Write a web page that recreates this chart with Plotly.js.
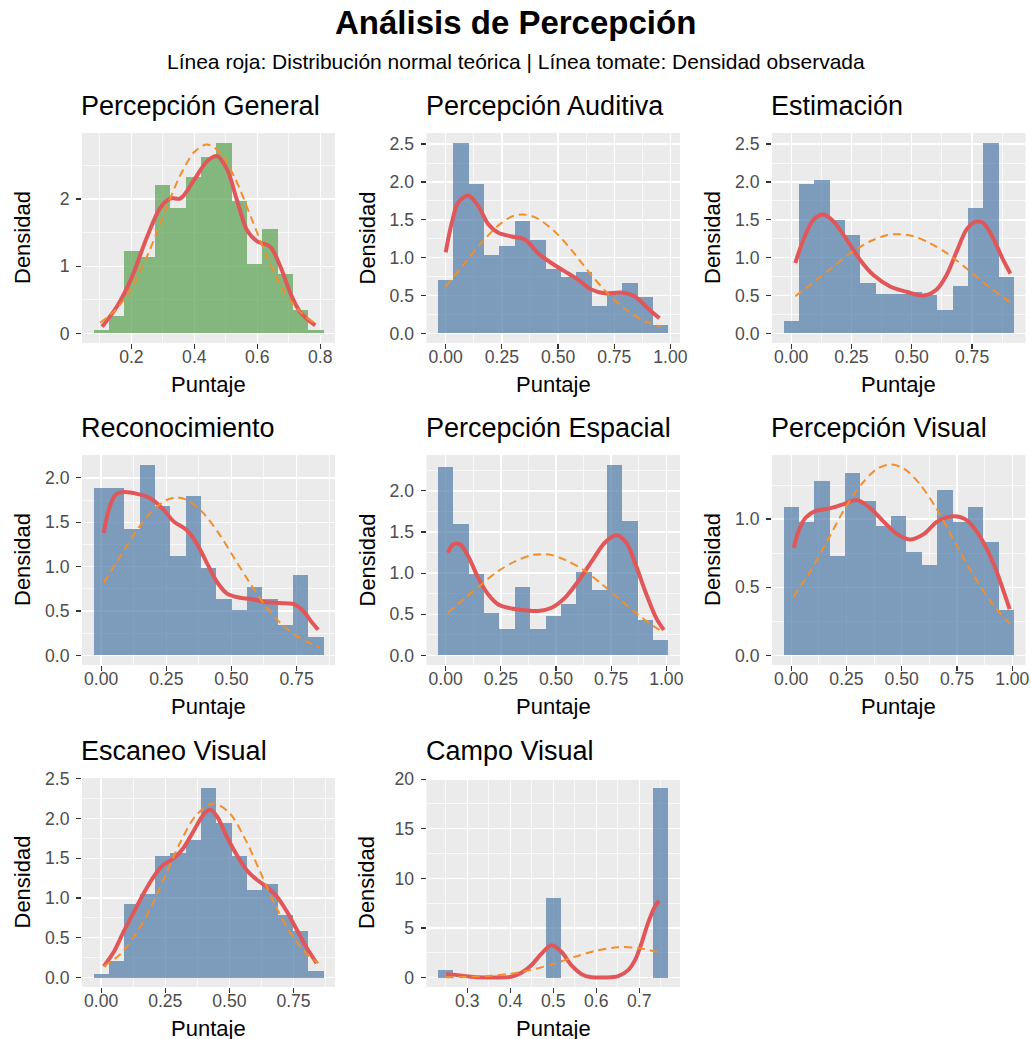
<!DOCTYPE html>
<html><head><meta charset="utf-8">
<script src="https://cdn.plot.ly/plotly-3.0.1.min.js"></script>
<style>html,body{margin:0;padding:0;background:#fff}</style>
</head><body><div id="chart" style="width:1031px;height:1039px"></div>
<script>
// ---------- DATA ----------
const panelTitles = ['Percepción General','Percepción Auditiva','Estimación','Reconocimiento','Percepción Espacial','Percepción Visual','Escaneo Visual','Campo Visual'];
const mainTitle = 'Análisis de Percepción';
const subTitle = 'Línea roja: Distribución normal teórica | Línea tomate: Densidad observada';
const xLabel = 'Puntaje';
const yLabel = 'Densidad';

// 1 Percepción General
const genBinRange = [0.104, 0.786];
const genDensity = [0.05,0.26,1.23,1.14,2.21,1.87,2.33,2.63,2.84,1.97,1.03,1.56,0.88,0.35,0.05];
const genObsX = [0.107,0.154,0.2,0.25,0.292,0.324,0.356,0.4,0.44,0.472,0.504,0.535,0.567,0.6,0.641,0.673,0.705,0.736,0.784];
const genObsY = [0.10,0.40,0.82,1.44,1.87,2.01,2.01,2.29,2.56,2.64,2.44,1.99,1.54,1.37,1.29,1.0,0.60,0.32,0.12];
const genNormX = [0.10,0.15,0.20,0.25,0.30,0.35,0.40,0.44,0.48,0.53,0.58,0.63,0.68,0.73,0.78];
const genNormY = [0.16,0.35,0.67,1.15,1.73,2.30,2.70,2.81,2.70,2.30,1.73,1.15,0.67,0.35,0.16];

// 2 Percepción Auditiva
const audBinRange = [0, 0.957];
const audDensity = [0.70,2.52,1.97,1.04,1.15,1.48,1.23,0.85,0.74,0.81,0.36,0.52,0.66,0.48,0.11];
const audObsX = [0,0.027,0.056,0.1,0.145,0.19,0.234,0.293,0.352,0.411,0.47,0.53,0.589,0.648,0.707,0.781,0.84,0.9,0.951];
const audObsY = [1.07,1.46,1.73,1.82,1.68,1.44,1.33,1.28,1.24,1.06,0.93,0.82,0.71,0.58,0.53,0.54,0.49,0.33,0.20];
const audNormX = [0,0.08,0.16,0.24,0.30,0.345,0.40,0.48,0.56,0.64,0.72,0.80,0.88,0.957];
const audNormY = [0.62,0.91,1.20,1.44,1.55,1.57,1.53,1.36,1.10,0.80,0.53,0.32,0.17,0.09];

// 3 Estimación
const estBinRange = [0, 0.892];
const estDensity = [0.16,1.97,2.02,1.50,1.30,0.66,0.52,0.52,0.55,0.51,0.31,0.63,1.65,2.52,0.74];
const estObsX = [0.017,0.051,0.092,0.134,0.175,0.23,0.286,0.341,0.41,0.479,0.548,0.603,0.644,0.686,0.727,0.761,0.796,0.837,0.879,0.909];
const estObsY = [0.93,1.24,1.50,1.57,1.48,1.24,0.97,0.77,0.62,0.55,0.50,0.58,0.77,1.08,1.37,1.47,1.46,1.26,0.97,0.79];
const estNormX = [0.017,0.09,0.17,0.25,0.33,0.40,0.445,0.50,0.57,0.65,0.73,0.81,0.87,0.913];
const estNormY = [0.49,0.67,0.87,1.07,1.22,1.30,1.31,1.29,1.20,1.05,0.85,0.64,0.50,0.40];

// 4 Reconocimiento
const recBinRange = [0, 0.824];
const recDensity = [1.89,1.89,1.42,2.15,1.68,1.12,1.80,0.99,0.64,0.51,0.77,0.64,0.34,0.91,0.21];
const recObsX = [0.01,0.029,0.055,0.087,0.138,0.189,0.24,0.278,0.329,0.367,0.406,0.444,0.482,0.533,0.584,0.635,0.686,0.737,0.776,0.807,0.833];
const recObsY = [1.38,1.64,1.81,1.84,1.82,1.77,1.64,1.51,1.41,1.26,1.04,0.83,0.70,0.65,0.63,0.60,0.59,0.58,0.50,0.38,0.29];
const recNormX = [0.01,0.07,0.13,0.19,0.25,0.29,0.33,0.39,0.45,0.51,0.57,0.63,0.69,0.75,0.837];
const recNormY = [0.82,1.10,1.38,1.61,1.75,1.78,1.75,1.61,1.38,1.10,0.82,0.56,0.36,0.22,0.09];

// 5 Percepción Espacial
const espBinRange = [0, 0.975];
const espDensity = [2.29,1.60,0.99,0.51,0.32,0.83,0.32,0.48,0.62,1.01,0.80,2.32,1.63,0.43,0.19];
const espObsX = [0.009,0.035,0.065,0.103,0.148,0.193,0.238,0.299,0.359,0.419,0.48,0.54,0.6,0.661,0.721,0.774,0.819,0.864,0.91,0.955,0.989];
const espObsY = [1.25,1.35,1.35,1.20,0.94,0.74,0.62,0.57,0.55,0.54,0.58,0.70,0.90,1.14,1.37,1.46,1.37,1.08,0.74,0.45,0.31];
const espNormX = [0.01,0.08,0.16,0.24,0.32,0.39,0.435,0.48,0.55,0.63,0.71,0.79,0.87,0.94,0.99];
const espNormY = [0.52,0.68,0.86,1.03,1.15,1.22,1.23,1.22,1.15,1.03,0.86,0.68,0.50,0.36,0.28];

// 6 Percepción Visual
const visBinRange = [0, 0.973];
const visDensity = [1.09,0.98,1.28,0.73,1.34,1.13,0.95,1.02,0.76,0.66,1.21,0.98,1.09,0.83,0.33];
const visObsX = [0.012,0.035,0.065,0.11,0.178,0.238,0.298,0.358,0.419,0.479,0.539,0.599,0.66,0.735,0.795,0.855,0.916,0.961,0.988];
const visObsY = [0.79,0.92,1.01,1.06,1.08,1.11,1.14,1.08,0.98,0.89,0.85,0.89,0.98,1.02,0.99,0.87,0.67,0.47,0.34];
const visNormX = [0.01,0.08,0.16,0.24,0.32,0.39,0.45,0.51,0.58,0.66,0.74,0.82,0.90,0.99];
const visNormY = [0.43,0.60,0.83,1.07,1.26,1.37,1.40,1.37,1.26,1.07,0.83,0.60,0.40,0.23];

// 7 Escaneo Visual
const escBinRange = [0, 0.837];
const escDensity = [0.05,0.21,0.92,1.05,1.53,1.56,1.73,2.39,1.94,1.53,1.10,1.18,0.79,0.59,0.08];
const escObsX = [0.01,0.049,0.088,0.127,0.166,0.205,0.244,0.283,0.321,0.36,0.399,0.425,0.451,0.49,0.529,0.568,0.607,0.646,0.685,0.724,0.763,0.802,0.84];
const escObsY = [0.14,0.32,0.58,0.82,1.06,1.27,1.42,1.50,1.63,1.84,2.05,2.11,2.03,1.77,1.54,1.35,1.23,1.14,1.02,0.83,0.60,0.37,0.18];
const escNormX = [0.01,0.07,0.13,0.19,0.25,0.31,0.37,0.438,0.50,0.56,0.62,0.68,0.74,0.80,0.847];
const escNormY = [0.14,0.28,0.52,0.86,1.28,1.71,2.04,2.19,2.07,1.75,1.33,0.90,0.55,0.30,0.18];

// 8 Campo Visual
const camBinRange = [0.25, 0.75];
const camDensity = [0.74,0,0,0,0,0,0,7.97,0,0,0,0,0,0,19.16];
const camObsX = [0.251,0.278,0.309,0.34,0.371,0.402,0.426,0.449,0.473,0.496,0.519,0.542,0.566,0.589,0.62,0.651,0.674,0.69,0.705,0.72,0.736,0.746];
const camObsY = [0.34,0.24,0.07,0.0,0.0,0.07,0.47,1.24,2.42,3.26,2.59,1.24,0.34,0.03,0.0,0.13,0.74,1.75,3.43,5.45,7.13,7.73];
const camNormX = [0.25,0.30,0.35,0.40,0.45,0.50,0.55,0.60,0.65,0.70,0.75];
const camNormY = [0.02,0.06,0.16,0.38,0.78,1.37,2.08,2.71,3.05,2.96,2.48];

// tick values and labels
const xTicks = [
  [[0.2,0.4,0.6,0.8],['0.2','0.4','0.6','0.8']],
  [[0,0.25,0.5,0.75,1],['0.00','0.25','0.50','0.75','1.00']],
  [[0,0.25,0.5,0.75],['0.00','0.25','0.50','0.75']],
  [[0,0.25,0.5,0.75],['0.00','0.25','0.50','0.75']],
  [[0,0.25,0.5,0.75,1],['0.00','0.25','0.50','0.75','1.00']],
  [[0,0.25,0.5,0.75,1],['0.00','0.25','0.50','0.75','1.00']],
  [[0,0.25,0.5,0.75],['0.00','0.25','0.50','0.75']],
  [[0.3,0.4,0.5,0.6,0.7],['0.3','0.4','0.5','0.6','0.7']]
];
const yTicks = [
  [[0,1,2],['0','1','2']],
  [[0,0.5,1,1.5,2,2.5],['0.0','0.5','1.0','1.5','2.0','2.5']],
  [[0,0.5,1,1.5,2,2.5],['0.0','0.5','1.0','1.5','2.0','2.5']],
  [[0,0.5,1,1.5,2],['0.0','0.5','1.0','1.5','2.0']],
  [[0,0.5,1,1.5,2],['0.0','0.5','1.0','1.5','2.0']],
  [[0,0.5,1],['0.0','0.5','1.0']],
  [[0,0.5,1,1.5,2,2.5],['0.0','0.5','1.0','1.5','2.0','2.5']],
  [[0,5,10,15,20],['0','5','10','15','20']]
];

// ---------- BUILD ----------
const panels = [
  {bins:genBinRange, dens:genDensity, ox:genObsX, oy:genObsY, nx:genNormX, ny:genNormY, green:true},
  {bins:audBinRange, dens:audDensity, ox:audObsX, oy:audObsY, nx:audNormX, ny:audNormY},
  {bins:estBinRange, dens:estDensity, ox:estObsX, oy:estObsY, nx:estNormX, ny:estNormY},
  {bins:recBinRange, dens:recDensity, ox:recObsX, oy:recObsY, nx:recNormX, ny:recNormY},
  {bins:espBinRange, dens:espDensity, ox:espObsX, oy:espObsY, nx:espNormX, ny:espNormY},
  {bins:visBinRange, dens:visDensity, ox:visObsX, oy:visObsY, nx:visNormX, ny:visNormY},
  {bins:escBinRange, dens:escDensity, ox:escObsX, oy:escObsY, nx:escNormX, ny:escNormY},
  {bins:camBinRange, dens:camDensity, ox:camObsX, oy:camObsY, nx:camNormX, ny:camNormY}
];

const W = 1031, H = 1039;
const FONT = 'Liberation Sans, Arial, sans-serif';
const colsPx = [[82,335],[426.5,680],[772,1025.5]];
const rowsPx = [[133,343],[455,665],[778,987]];

function minorVals(v){
  const out=[]; const d=v[1]-v[0];
  out.push(v[0]-d/2);
  for(let i=0;i<v.length-1;i++) out.push((v[i]+v[i+1])/2);
  out.push(v[v.length-1]+d/2);
  return out;
}

const traces=[]; const annotations=[];
const layout = {
  width:W, height:H, margin:{l:0,r:0,t:0,b:0},
  paper_bgcolor:'#ffffff', plot_bgcolor:'#EBEBEB',
  showlegend:false, barmode:'overlay', bargap:0,
  font:{family:FONT}
};

panels.forEach((p,i)=>{
  const k=i+1, sfx = k===1?'':String(k);
  const col=i%3, row=Math.floor(i/3);
  const n=p.dens.length;
  const w=(p.bins[1]-p.bins[0])/(n-1);
  const centers=p.dens.map((_,j)=>p.bins[0]+j*w);
  traces.push({type:'bar', x:centers, y:p.dens, width:w, xaxis:'x'+sfx, yaxis:'y'+sfx,
    marker:{color: p.green?'rgba(89,161,79,0.7)':'rgba(78,121,167,0.7)', line:{width:0}}, hoverinfo:'skip'});
  traces.push({type:'scatter', mode:'lines', x:p.ox, y:p.oy, xaxis:'x'+sfx, yaxis:'y'+sfx,
    line:{color:'rgb(225,87,89)', width:4, shape:'spline', smoothing:0.9}, hoverinfo:'skip'});
  traces.push({type:'scatter', mode:'lines', x:p.nx, y:p.ny, xaxis:'x'+sfx, yaxis:'y'+sfx,
    line:{color:'rgb(242,142,43)', width:2, dash:'8px,5px', shape:'spline', smoothing:0.9}, hoverinfo:'skip'});

  const lo=Math.min(p.bins[0]-w/2, ...p.ox, ...p.nx), hi=Math.max(p.bins[1]+w/2, ...p.ox, ...p.nx);
  const span=hi-lo;
  const ymax=Math.max(...p.dens, ...p.oy, ...p.ny);
  const [cx0,cx1]=colsPx[col], [ry0,ry1]=rowsPx[row];
  const common = {
    ticks:'outside', ticklen:5, tickwidth:1.2, tickcolor:'#333333',
    tickfont:{size:17.6, color:'#4D4D4D', family:FONT},
    showgrid:true, gridcolor:'#ffffff', gridwidth:1.4,
    zeroline:false, showline:false, fixedrange:true, tickmode:'array'
  };
  layout['xaxis'+sfx] = Object.assign({}, common, {
    domain:[cx0/W, cx1/W], anchor:'y'+sfx,
    range:[lo-0.05*span, hi+0.05*span],
    tickvals:xTicks[i][0], ticktext:xTicks[i][1], ticklabelstandoff:-7,
    minor:{tickmode:'array', tickvals:minorVals(xTicks[i][0]), showgrid:true, gridcolor:'#ffffff', gridwidth:0.7, ticks:''}
  });
  layout['yaxis'+sfx] = Object.assign({}, common, {
    domain:[1-ry1/H, 1-ry0/H], anchor:'x'+sfx,
    range:[-0.05*ymax, 1.05*ymax],
    tickvals:yTicks[i][0], ticktext:yTicks[i][1], ticklabelstandoff:3,
    minor:{tickmode:'array', tickvals:minorVals(yTicks[i][0]), showgrid:true, gridcolor:'#ffffff', gridwidth:0.7, ticks:''}
  });

  // panel title
  annotations.push({xref:'paper', yref:'paper', x:(cx0-3)/W, y:1-(ry0-27)/H, xanchor:'left', yanchor:'middle',
    text:panelTitles[i], showarrow:false, font:{size:27, color:'#000', family:FONT}});
  // x label
  annotations.push({xref:'paper', yref:'paper', x:(cx0+cx1)/2/W, y:1-(ry1+41)/H, xanchor:'center', yanchor:'middle',
    text:xLabel, showarrow:false, font:{size:22, color:'#000', family:FONT}});
  // y label
  annotations.push({xref:'paper', yref:'paper', x:(cx0-60)/W, y:1-((ry0+ry1)/2)/H, xanchor:'center', yanchor:'middle',
    text:yLabel, textangle:-90, showarrow:false, font:{size:22, color:'#000', family:FONT}});
});

annotations.push({xref:'paper', yref:'paper', x:0.5, y:1-22/H, xanchor:'center', yanchor:'middle',
  text:'<b>'+mainTitle+'</b>', showarrow:false, font:{size:33, color:'#000', family:FONT}});
annotations.push({xref:'paper', yref:'paper', x:0.5, y:1-61/H, xanchor:'center', yanchor:'middle',
  text:subTitle, showarrow:false, font:{size:21, color:'#000', family:FONT}});
layout.annotations = annotations;

Plotly.newPlot('chart', traces, layout, {displayModeBar:false, staticPlot:true});
</script></body></html>
